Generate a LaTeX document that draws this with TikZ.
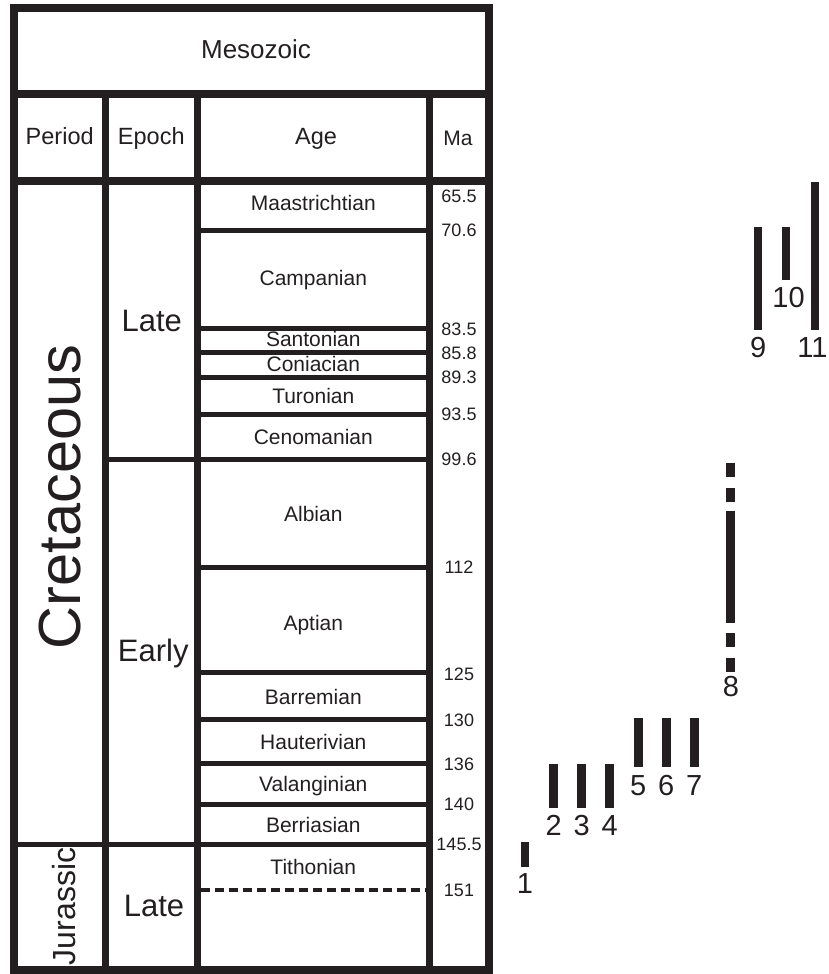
\documentclass[tikz,border=0pt]{standalone}
\usepackage{fontspec}
\setmainfont{Liberation Sans}
\definecolor{ink}{HTML}{231F20}
\begin{document}
\begin{tikzpicture}[x=1pt,y=-1pt,
  frameline/.style={line width=8pt, draw=ink},
  sepline/.style={line width=7pt, draw=ink},
  ageline/.style={line width=5pt, draw=ink},
  dashline/.style={line width=3.5pt, draw=ink, dash pattern=on 9pt off 5pt},
  tx/.style={text=ink, inner sep=0pt, anchor=base},
  hdr/.style={tx, font=\fontsize{23.5}{28}\selectfont},
  agetx/.style={tx, font=\fontsize{21}{25}\selectfont},
  matx/.style={tx, font=\fontsize{18}{21}\selectfont},
  eptx/.style={tx, font=\fontsize{31}{36}\selectfont},
  bar/.style={fill=ink, inner sep=0pt, minimum width=8.6pt, draw=none, rectangle},
  num/.style={tx, font=\fontsize{29}{34}\selectfont},
]
\useasboundingbox (0,0) rectangle (829,974);

% frame and main separators
\draw[frameline] (14,8) rectangle (489,970);
\draw[frameline] (14,94) -- (489,94);
\draw[frameline] (14,181) -- (489,181);
\draw[sepline] (105.5,94) -- (105.5,970);
\draw[sepline] (197,94) -- (197,970);
\draw[sepline] (429.5,94) -- (429.5,970);

% age boundaries
\foreach \yy in {230,328,352,377.5,414,567.5,672.5,719,763.5,804}
  \draw[ageline] (197,\yy) -- (429.5,\yy);
\draw[ageline] (105.5,459.5) -- (429.5,459.5);
\draw[ageline] (14,844) -- (429.5,844);
\draw[dashline] (201,890) -- (426,890);

% headers
\node[tx, font=\fontsize{26}{30}\selectfont] (meso) at (256,58.3) {Mesozoic};
\node[hdr] (hperiod) at (59.7,144) {Period};
\node[hdr] (hepoch) at (151.3,144) {Epoch};
\node[hdr] (hage) at (316,144) {Age};
\node[tx, font=\fontsize{21}{25}\selectfont] (hma) at (458,145) {Ma};

% periods
\node[tx, font=\fontsize{59.5}{64}\selectfont, rotate=90] (cret) at (80,497) {Cretaceous};
\node[tx, font=\fontsize{32}{37}\selectfont, rotate=90] (jur) at (75,906.5) {Jurassic};

% epochs
\node[eptx] (elate) at (151.7,331.7) {Late};
\node[eptx] (eearly) at (153.3,661.7) {Early};
\node[eptx] (jlate) at (154,916) {Late};

% ages
\node[agetx] (a1) at (313.3,210.5) {Maastrichtian};
\node[agetx] (a2) at (313.3,285) {Campanian};
\node[agetx] (a3) at (313.3,346.7) {Santonian};
\node[agetx] (a4) at (313.3,371.7) {Coniacian};
\node[agetx] (a5) at (313.3,403) {Turonian};
\node[agetx] (a6) at (313.3,444) {Cenomanian};
\node[agetx] (a7) at (313.3,521) {Albian};
\node[agetx] (a8) at (313.3,630.7) {Aptian};
\node[agetx] (a9) at (313.3,704) {Barremian};
\node[agetx] (a10) at (313.3,749) {Hauterivian};
\node[agetx] (a11) at (313.3,791) {Valanginian};
\node[agetx] (a12) at (313.3,832) {Berriasian};
\node[agetx] (a13) at (313.3,874) {Tithonian};

% Ma values
\node[matx] (m1) at (459,202) {65.5};
\node[matx] (m2) at (459,236.7) {70.6};
\node[matx] (m3) at (459,335.7) {83.5};
\node[matx] (m4) at (459,359) {85.8};
\node[matx] (m5) at (459,383) {89.3};
\node[matx] (m6) at (459,420) {93.5};
\node[matx] (m7) at (459,465.7) {99.6};
\node[matx] (m8) at (459,573) {112};
\node[matx] (m9) at (459,680) {125};
\node[matx] (m10) at (459,726) {130};
\node[matx] (m11) at (459,770.7) {136};
\node[matx] (m12) at (459,810.7) {140};
\node[matx] (m13) at (459,850.7) {145.5};
\node[matx] (m14) at (459,896.7) {151};

% range bars
\node[bar, minimum height=25pt] (b1) at (525,854.5) {};
\node[bar, minimum height=44pt] (b2) at (553.7,786.3) {};
\node[bar, minimum height=44pt] (b3) at (581.7,786.3) {};
\node[bar, minimum height=44pt] (b4) at (609.7,786.3) {};
\node[bar, minimum height=49.6pt] (b5) at (638.3,742.5) {};
\node[bar, minimum height=49.6pt] (b6) at (666.3,742.5) {};
\node[bar, minimum height=49.6pt] (b7) at (694.3,742.5) {};
\node[bar, minimum height=14pt] (b8a) at (730.3,469.7) {};
\node[bar, minimum height=14.6pt] (b8b) at (730.3,495) {};
\node[bar, minimum height=112.3pt] (b8c) at (730.3,567.2) {};
\node[bar, minimum height=14.6pt] (b8d) at (730.3,640) {};
\node[bar, minimum height=14.6pt] (b8e) at (730.3,665) {};
\node[bar, minimum width=8pt, minimum height=102.7pt] (b9) at (758.3,278.7) {};
\node[bar, minimum width=8pt, minimum height=52.7pt] (b10) at (786.3,253.7) {};
\node[bar, minimum width=8pt, minimum height=148.3pt] (b11) at (814.7,255.9) {};

% bar labels
\node[num] (n1) at (525,893) {1};
\node[num] (n2) at (553.7,835) {2};
\node[num] (n3) at (581.7,835) {3};
\node[num] (n4) at (609.7,835) {4};
\node[num] (n5) at (638.3,795) {5};
\node[num] (n6) at (666.3,795) {6};
\node[num] (n7) at (694.3,795) {7};
\node[num] (n8) at (731,696.7) {8};
\node[num] (n9) at (758.3,357) {9};
\node[num] (n10) at (788.5,307) {10};
\node[num] (n11) at (812.5,357) {11};
\end{tikzpicture}
\end{document}
